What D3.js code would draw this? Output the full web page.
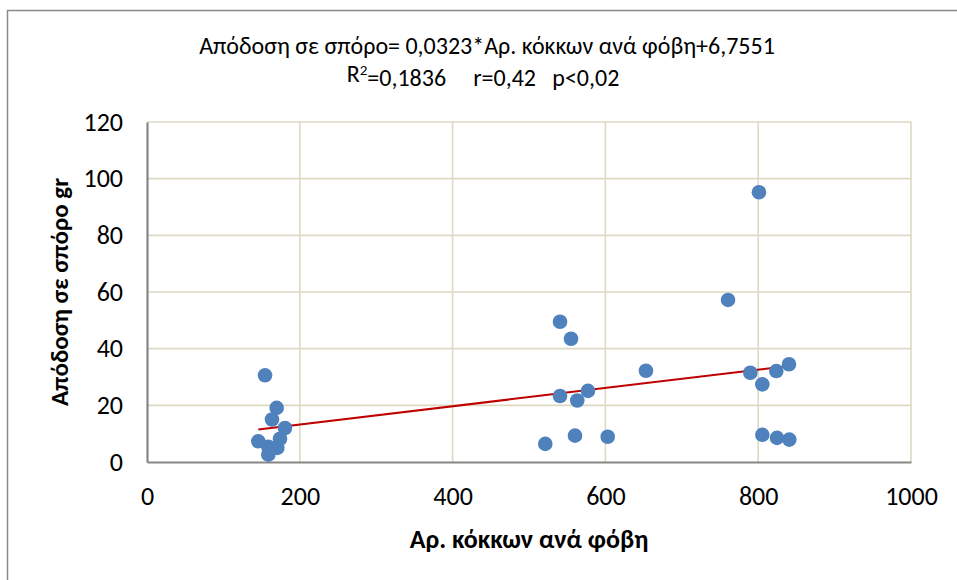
<!DOCTYPE html>
<html>
<head>
<meta charset="utf-8">
<script src="https://cdn.jsdelivr.net/npm/d3@7"></script>
<style>
  body { margin: 0; background: #fff; }
  svg text { font-family: Carlito, "Open Sans", "Liberation Sans", sans-serif; fill: #000; }
</style>
</head>
<body>
<script>
// grains per panicle (x) and seed yield in gr (y)
var grains = [154.5, 169.7, 163.6, 180.6, 174.1, 145.7, 158.8, 170.6, 158.8,
              540.6, 555.0, 653.1, 540.6, 577.2, 563.2, 560.2, 521.3, 603.0,
              801.0, 760.5, 789.7, 805.4, 823.7, 840.3, 805.4, 824.6, 840.7];
var yieldGr = [30.6, 19.1, 15.0, 12.0, 8.2, 7.3, 5.4, 5.0, 2.6,
               49.5, 43.5, 32.2, 23.3, 25.1, 21.7, 9.3, 6.4, 8.9,
               95.2, 57.2, 31.5, 27.4, 32.1, 34.5, 9.6, 8.5, 7.9];
var xTicks = [0, 200, 400, 600, 800, 1000];
var yTicks = [0, 20, 40, 60, 80, 100, 120];
var slope = 0.0323, intercept = 6.7551;

var titleLine1 = "Απόδοση σε σπόρο= 0,0323*Αρ. κόκκων ανά φόβη+6,7551";
var xTitle = "Αρ. κόκκων ανά φόβη";
var yTitle = "Απόδοση σε σπόρο gr";

var W = 957, H = 580;
var margin = {top: 122, right: 46, bottom: 118, left: 147},
    width = W - margin.left - margin.right,
    height = H - margin.top - margin.bottom;

var svg = d3.select("body").append("svg")
            .attr("width", W)
            .attr("height", H);

// outer chart frame (runs off the right and bottom of the picture)
svg.append("rect")
   .attr("x", 7.5).attr("y", 10.5)
   .attr("width", 1000).attr("height", 1000)
   .attr("fill", "none")
   .attr("stroke", "#898989")
   .attr("stroke-width", 1.5);

var g = svg.append("g")
           .attr("transform", "translate(" + margin.left + "," + margin.top + ")");

var x = d3.scaleLinear().domain([0, 1000]).range([0, width]);
var y = d3.scaleLinear().domain([0, 120]).range([height, 0]);

// gridlines
g.selectAll(".hgrid").data(yTicks.slice(1)).enter()
 .append("line")
 .attr("x1", 0).attr("x2", width)
 .attr("y1", function(d) { return y(d); })
 .attr("y2", function(d) { return y(d); })
 .attr("stroke", "#ddd9c3").attr("stroke-width", 1.6);

g.selectAll(".vgrid").data(xTicks.slice(1)).enter()
 .append("line")
 .attr("y1", 0).attr("y2", height)
 .attr("x1", function(d) { return x(d); })
 .attr("x2", function(d) { return x(d); })
 .attr("stroke", "#ddd9c3").attr("stroke-width", 1.6);

// axes
var xAxis = g.append("g")
             .attr("transform", "translate(0," + height + ")")
             .call(d3.axisBottom(x).tickValues(xTicks).tickFormat(d3.format("d"))
                     .tickSize(0).tickPadding(30));
var yAxis = g.append("g")
             .call(d3.axisLeft(y).tickValues(yTicks).tickFormat(d3.format("d"))
                     .tickSize(0).tickPadding(24));

[xAxis, yAxis].forEach(function(a) {
  a.select(".domain").attr("stroke", "#868686").attr("stroke-width", 2.2);
  a.attr("font-family", null);
  a.selectAll("text").style("font-size", "26px");
});
xAxis.selectAll("text").attr("dy", "0.5em");

// trend line over the range of the data
var xr = d3.extent(grains);
g.append("line")
 .attr("x1", x(xr[0])).attr("y1", y(slope * xr[0] + intercept))
 .attr("x2", x(xr[1])).attr("y2", y(slope * xr[1] + intercept))
 .attr("stroke", "#c00000")
 .attr("stroke-width", 2);

// points
g.selectAll("circle")
 .data(grains)
 .enter()
 .append("circle")
 .attr("cx", function(d) { return x(d); })
 .attr("cy", function(d, i) { return y(yieldGr[i]); })
 .attr("r", 7.3)
 .attr("fill", "#4f81bd");

// title
svg.append("text")
   .attr("x", 487).attr("y", 54)
   .attr("text-anchor", "middle")
   .style("font-size", "24px")
   .text(titleLine1);

var t2 = svg.append("text")
            .attr("x", 483).attr("y", 82)
            .attr("text-anchor", "middle")
            .style("font-size", "24px");
t2.append("tspan").text("R");
t2.append("tspan").attr("dy", "-0.45em").style("font-size", "15px").text("2");
t2.append("tspan").attr("dy", "0.45em").text("=0,1836\u00a0\u00a0\u00a0\u00a0\u00a0r=0,42\u00a0\u00a0\u00a0p<0,02");

// axis titles
svg.append("text")
   .attr("x", 529).attr("y", 548)
   .attr("text-anchor", "middle")
   .style("font-size", "26px")
   .style("font-weight", "bold")
   .text(xTitle);

svg.append("text")
   .attr("transform", "translate(68," + (margin.top + height / 2) + ") rotate(-90)")
   .attr("text-anchor", "middle")
   .style("font-size", "25px")
   .style("font-weight", "bold")
   .text(yTitle);
</script>
</body>
</html>
